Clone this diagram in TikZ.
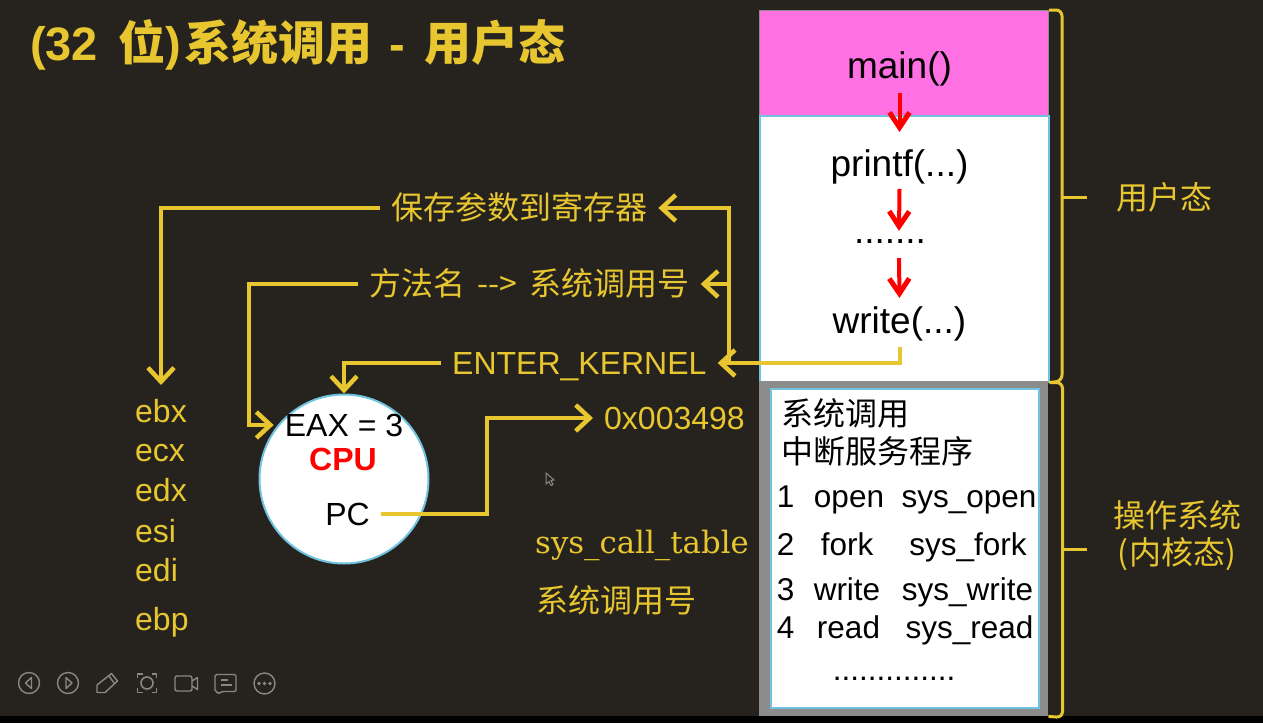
\documentclass[tikz,border=0pt]{standalone}
\usepackage{fontspec}
\setmainfont{Liberation Sans}
\newfontfamily\cjk{Noto Sans CJK SC}
\newfontfamily\serifwide{DejaVu Serif}
\usetikzlibrary{arrows.meta}
\usetikzlibrary{positioning}
\definecolor{slidebg}{HTML}{26231F}
\definecolor{slideyellow}{HTML}{E8C62F}
\definecolor{slidepink}{HTML}{FF70E3}
\definecolor{slidecyan}{HTML}{6FC3E0}
\definecolor{slidegray}{HTML}{8C8C8C}
\definecolor{icongray}{HTML}{8A887F}
\tikzset{
  yellowlabel/.style={
    text=slideyellow,
    font=\fontsize{32}{40}\selectfont,
    inner sep=11pt,
    text height=27pt,
    text depth=4pt,
    anchor=west,
  },
  blacklabel/.style={
    text=black,
    font=\fontsize{32}{38}\selectfont,
    inner sep=0pt,
  },
  fnlabel/.style={
    blacklabel,
    anchor=base,
    font=\fontsize{37}{40}\selectfont,
  },
  tabletext/.style={
    blacklabel,
    anchor=base,
    font=\fontsize{31.5}{38}\selectfont,
  },
  memarea/.style={
    rectangle,
    anchor=north west,
    minimum width=289pt,
    inner sep=0pt,
  },
  yellowline/.style={
    draw=slideyellow,
    line width=4pt,
    -{Straight Barb[length=14pt,width=26pt,line width=4.5pt]},
  },
  redline/.style={
    draw=red,
    line width=4pt,
    -{Straight Barb[length=15pt,width=20pt,line width=5pt]},
  },
  bracketline/.style={
    draw=slideyellow,
    line width=3pt,
    rounded corners=6pt,
  },
  iconline/.style={
    draw=icongray,
    line width=1.4pt,
    line join=round,
  },
}

\begin{document}
\begin{tikzpicture}[x=1pt,y=-1pt]
    \useasboundingbox (0,0) rectangle (1263,723);
    \fill[slidebg] (0,0) rectangle (1263,716);
    \fill[black] (0,716) rectangle (1263,723);

    \node[anchor=west, text=slideyellow, inner sep=0pt, font=\fontsize{47}{50}\selectfont\bfseries] (slidetitle) at (30,45)
    {
        (32\hspace{7pt} {\cjk 位})\hspace{4pt}{\cjk 系统调用}\hspace{4pt} - \hspace{6pt}{\cjk 用户态}
    };

    % memory column
    \node[memarea, fill=slidepink, draw=slidegray, line width=1pt, minimum height=105pt] (mainbox) at (759,10) {};
    \node[memarea, fill=white, draw=slidecyan, line width=1.5pt, minimum height=266pt] (userbox) at (759,115) {};
    \node[memarea, fill=slidegray, minimum height=335pt] (kernelbox) at (759,381) {};
    \node[memarea, fill=white, draw=slidecyan, line width=2pt, minimum width=268pt, minimum height=319pt] (tablebox) at (770,388) {};

    \node[fnlabel] (mainfn) at (899.5,78) {main()};
    \node[fnlabel] (printffn) at (899.5,176) {printf(...)};
    \node[fnlabel] (dotsfn) at (890,243) {.......};
    \node[fnlabel] (writefn) at (899.5,333) {write(...)};

    \draw[redline] ([yshift=-7pt]mainfn.south) -- ([yshift=17pt]printffn.north);
    \draw[redline] ([yshift=-5pt]printffn.south) -- ([yshift=8pt,xshift=9pt]dotsfn.north);
    \draw[redline] ([yshift=-15pt,xshift=9pt]dotsfn.south) -- ([yshift=8pt]writefn.north);

    % system call table
    \node[blacklabel, anchor=west] (tabletitle) at (781,413) {\cjk 系统调用};
    \node[blacklabel, anchor=west] (tablesub) at (781,451) {\cjk 中断服务程序};
    \foreach \rownum/\rowy/\callname/\callx/\sysname/\sysx in {
        1/507.5/open/849/sys\_open/969,
        2/555.5/fork/847/sys\_fork/968,
        3/600.5/write/847/sys\_write/967.5,
        4/638.5/read/848.5/sys\_read/969.5} {
      \node[tabletext] (num\rownum) at (785.5,\rowy) {\rownum};
      \node[tabletext] (call\rownum) at (\callx,\rowy) {\callname};
      \node[tabletext] (sys\rownum) at (\sysx,\rowy) {\sysname};
    }
    \node[tabletext] (tabledots) at (894,680) {..............};

    % brackets on the right
    \coordinate (userjoin) at (1061,197);
    \coordinate (kerneljoin) at (1061,549);
    \draw[bracketline] (mainbox.north east) -- ++(13,0) -- ++(0,371) -- (userbox.south east);
    \draw[bracketline] (userbox.south east) -- ++(13,0) -- ++(0,335) -- (kernelbox.south east);
    \node[yellowlabel, inner sep=0pt] (userlabel) at (1116,198) {\cjk 用户态};
    \node[text=slideyellow, inner sep=0pt, align=center, font=\fontsize{32}{37}\selectfont] (kernellabel) at (1177,536) {\cjk 操作系统\\\cjk (\hspace{1pt}内核态\hspace{1pt})};
    \draw[bracketline] (userjoin) -- ++(26,0);
    \draw[bracketline] (kerneljoin) -- ++(26,0);

    % registers
    \foreach \regname/\regy in {ebx/411,ecx/450,edx/490,esi/531,edi/570,ebp/619} {
      \node[yellowlabel, inner sep=0pt] (\regname) at (135,\regy) {\regname};
    }
    \coordinate (ebxtop) at (161,385);

    % cpu
    \node[circle, fill=white, draw=slidecyan, line width=2pt, minimum size=169pt, inner sep=0pt] (cpu) at (344,479) {};
    \node[blacklabel, inner sep=11pt] (eax) at (344,425) {EAX = 3};
    \node[blacklabel, text=red, font=\fontsize{32}{38}\selectfont\bfseries] (cpuname) at (343,459) {CPU};
    \node[blacklabel, inner sep=11pt] (pc) at (347.5,514) {PC};

    \node[yellowlabel] (savelabel) at (380,208) {\cjk 保存参数到寄存器};
    \node[yellowlabel] (numlabel) at (358,284) {\cjk 方法名\hspace{5pt} --> \hspace{5pt}系统调用号};
    \node[yellowlabel] (enterlabel) at (441,363) {ENTER\_KERNEL};
    \node[yellowlabel] (addrlabel) at (593,418) {0x003498};
    \node[text=slideyellow, anchor=west, inner sep=0pt, font=\fontsize{30.8}{36}\selectfont\serifwide] (tablelabel) at (535,545) {sys\_call\_table};
    \node[yellowlabel, inner sep=0pt] (callnolabel) at (536,601) {\cjk 系统调用号};

    % connectors
    \draw[yellowline] (savelabel.west) -| (ebxtop);
    \draw[yellowline] (numlabel.west) -| (249,425) -- (eax.west);
    \draw[yellowline] (enterlabel.west) -| (cpu.north);
    \draw[yellowline] (pc.east) -| (487,418) -- (addrlabel.west);
    \draw[yellowline] ([yshift=-6pt]writefn.south) |- (enterlabel.east);
    \coordinate (branchlow) at (729,362);
    \draw[yellowline] (branchlow) |- (savelabel.east);
    \draw[yellowline] (branchlow |- numlabel.east) -- (numlabel.east);

    % mouse pointer
    \draw[icongray, fill=slidebg, line width=1pt] (546,473) -- (546,484) -- (549,481.5) -- (551,485.5) -- (553,484.5) -- (551,480.5) -- (554,480) -- cycle;

    % player toolbar
    \draw[iconline] (29,683) circle (10.5);
    \draw[iconline] (31.5,677.5) -- (25.5,683) -- (31.5,688.5) -- cycle;
    \draw[iconline] (68,683) circle (10.5);
    \draw[iconline] (66,677.5) -- (72,683) -- (66,688.5) -- cycle;
    \draw[iconline] (97,692.5) -- (97,685) -- (111.5,673.5) -- (117.5,681) -- (105,692.5) -- cycle;
    \draw[iconline] (109,676) -- (114.5,683.5);
    \draw[icongray, fill=slidebg, line width=1.6pt] (147,683) circle (6);
    \draw[iconline] (137.5,678) |- (142.5,674);
    \draw[iconline] (151.5,674) -| (156.5,678);
    \draw[iconline] (156.5,688) |- (151.5,692.5);
    \draw[iconline] (142.5,692.5) -| (137.5,688);
    \draw[iconline, rounded corners=2pt] (175,676) rectangle (192,691);
    \draw[iconline] (192,681) -- (197.5,677.5) -- (197.5,689.5) -- (192,686);
    \draw[iconline, rounded corners=1.5pt] (215,674.5) -- (236,674.5) -- (236,691.5) -- (222,691.5) -- (218,694) -- (217.5,691.5) -- (215,691.5) -- cycle;
    \draw[iconline] (221,680) -- (228,680);
    \draw[iconline] (221,685) -- (232,685);
    \draw[iconline] (264.5,683.5) circle (10.5);
    \foreach \dotx in {259,264.5,270} {
      \fill[icongray] (\dotx,683.5) circle (1.8);
    }
\end{tikzpicture}
\end{document}
